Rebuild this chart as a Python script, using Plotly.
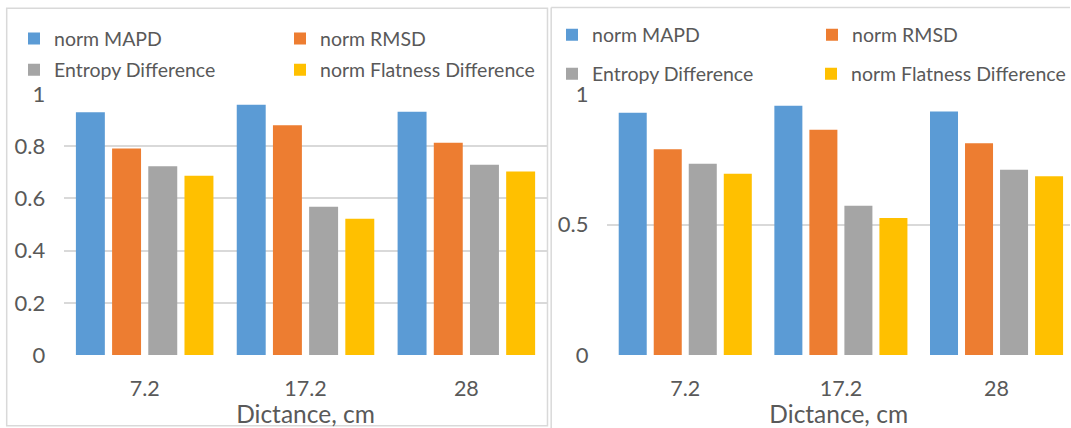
import plotly.graph_objects as go

# Distances (categories) and the four normalised metrics for each panel
distances = ["7.2", "17.2", "28"]
series_names = ["norm MAPD", "norm RMSD", "Entropy Difference", "norm Flatness Difference"]
colors = ["#5B9BD5", "#ED7D31", "#A5A5A5", "#FFC000"]

left_mapd = [0.930, 0.959, 0.932]
left_rmsd = [0.791, 0.881, 0.813]
left_entropy = [0.723, 0.568, 0.729]
left_flatness = [0.687, 0.522, 0.703]

right_mapd = [0.928, 0.955, 0.933]
right_rmsd = [0.789, 0.863, 0.812]
right_entropy = [0.733, 0.572, 0.710]
right_flatness = [0.695, 0.525, 0.685]

left_ticks = [0, 0.2, 0.4, 0.6, 0.8, 1]
right_ticks = [0, 0.5, 1]

W, H = 1071, 428
FONT = "Lato"
TXT = "#595959"
GRID = "#D9D9D9"


def px_x(x):
    return x / W


def px_y(y):
    return 1 - y / H


fig = go.Figure()

left_vals = [left_mapd, left_rmsd, left_entropy, left_flatness]
right_vals = [right_mapd, right_rmsd, right_entropy, right_flatness]

# one legend box per entry so the 2x2 legend grid can be placed freely
left_legends = ["legend", "legend2", "legend3", "legend4"]
right_legends = ["legend5", "legend6", "legend7", "legend8"]

for name, vals, col, lg in zip(series_names, left_vals, colors, left_legends):
    fig.add_trace(go.Bar(x=distances, y=vals, name=name, marker_color=col,
                         marker_line_width=0, xaxis="x", yaxis="y",
                         legend=lg, showlegend=True))
for name, vals, col, lg in zip(series_names, right_vals, colors, right_legends):
    fig.add_trace(go.Bar(x=distances, y=vals, name=name, marker_color=col,
                         marker_line_width=0, xaxis="x2", yaxis="y2",
                         legend=lg, showlegend=True))

y_bottom = px_y(355)
y_top = px_y(93.3)

common_x = dict(type="category", showgrid=False, zeroline=False, showline=False,
                ticks="", automargin=False,
                tickfont=dict(family=FONT, size=21.5, color=TXT),
                ticklabelstandoff=18,
                title=dict(text="Dictance, cm", font=dict(family=FONT, size=24.5, color=TXT),
                           standoff=4))
common_y = dict(range=[0, 1.003], showgrid=True, gridcolor=GRID, gridwidth=2,
                zeroline=False, showline=False, ticks="", automargin=False,
                tickfont=dict(family=FONT, size=22, color=TXT), ticklabelstandoff=18)

fig.update_layout(
    width=W, height=H,
    margin=dict(l=0, r=0, t=0, b=0),
    paper_bgcolor="white", plot_bgcolor="white",
    showlegend=True,
    barmode="group", bargap=0.1, bargroupgap=0.2,
    xaxis=dict(domain=[px_x(64.3), px_x(547.3)], range=[-0.5, 2.5], anchor="y", **common_x),
    yaxis=dict(domain=[y_bottom, y_top], anchor="x", tickvals=left_ticks,
               ticktext=["0", "0.2", "0.4", "0.6", "0.8", "1"], **common_y),
    xaxis2=dict(domain=[px_x(608), 1], range=[-0.5, 2.472], anchor="y2", **common_x),
    yaxis2=dict(domain=[y_bottom, y_top], anchor="x2", tickvals=right_ticks,
                ticktext=["0", "0.5", "1"], **common_y),
)

legend_style = dict(orientation="h", xanchor="left", yanchor="middle",
                    font=dict(family=FONT, size=19.5, color=TXT),
                    bgcolor="rgba(0,0,0,0)", borderwidth=0, visible=True,
                    itemclick=False, itemdoubleclick=False)

legend_pos = {
    "legend": (14, 38.7), "legend2": (280, 38.7),
    "legend3": (14, 70), "legend4": (280, 70),
    "legend5": (552, 35), "legend6": (812, 35),
    "legend7": (552, 74), "legend8": (812, 74),
}
fig.update_layout(**{k: dict(x=px_x(x), y=px_y(y), **legend_style)
                     for k, (x, y) in legend_pos.items()})

# Panel frames
fig.add_shape(type="rect", xref="paper", yref="paper",
              x0=px_x(6.7), x1=px_x(548), y0=px_y(425.7), y1=px_y(8.3),
              line=dict(color=GRID, width=1.5), layer="below")
fig.add_shape(type="line", xref="paper", yref="paper",
              x0=px_x(551.7), x1=px_x(551.7), y0=0, y1=px_y(7.5),
              line=dict(color=GRID, width=1.5))
fig.add_shape(type="line", xref="paper", yref="paper",
              x0=px_x(551.7), x1=1, y0=px_y(7.5), y1=px_y(7.5),
              line=dict(color=GRID, width=1.5))

fig.write_html("out.html")
